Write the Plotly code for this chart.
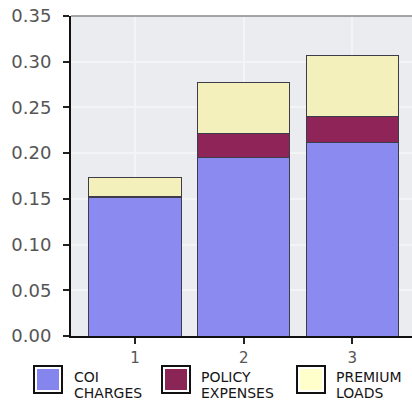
import plotly.graph_objects as go

# Policy years and the cost components stacked in each bar
years = ["1", "2", "3"]
coi_charges = [0.151, 0.195, 0.212]
policy_expenses = [0.002, 0.027, 0.028]
premium_loads = [0.020, 0.055, 0.067]

series_names = [["COI", "CHARGES"], ["POLICY", "EXPENSES"], ["PREMIUM", "LOADS"]]
bar_colors = ["#8a8af0", "#8e2457", "#f4f0bc"]
swatch_colors = ["#8585ee", "#8b2555", "#ffffcc"]

y_ticks = [0, 0.05, 0.10, 0.15, 0.20, 0.25, 0.30, 0.35]
y_tick_text = ["0.00", "0.05", "0.10", "0.15", "0.20", "0.25", "0.30", "0.35"]

W, H = 412, 402
ML, MR, MT, MB = 71, 0, 16, 66
PW, PH = W - ML - MR, H - MT - MB


def px_x(x):
    return (x - ML) / PW


def px_y(y):
    return (H - MB - y) / PH


fig = go.Figure()
for vals, name, col in zip([coi_charges, policy_expenses, premium_loads],
                           series_names, bar_colors):
    fig.add_trace(go.Bar(
        x=[1, 2, 3], y=vals, name=" ".join(name),
        marker=dict(color=col, line=dict(color="#3c3c4a", width=1)),
        width=0.85,
    ))

shapes = [
    # top border of the plotting area
    dict(type="line", xref="paper", yref="paper", x0=0, x1=1, y0=1, y1=1,
         line=dict(color="#8a8a8a", width=1.5), layer="above"),
    # white band under the axis, covering the lower part of the tick labels
    dict(type="rect", xref="paper", yref="paper", x0=px_x(0), x1=px_x(W),
         y0=px_y(H), y1=px_y(364), fillcolor="white", line=dict(width=0),
         layer="above"),
]
annotations = []

# legend: framed swatches with two-line captions
swatch_x = [34, 162, 297]
text_x = [72, 199, 334]
for sx, tx, col, name in zip(swatch_x, text_x, swatch_colors, series_names):
    shapes.append(dict(type="rect", xref="paper", yref="paper",
                       x0=px_x(sx), x1=px_x(sx + 28), y0=px_y(393), y1=px_y(366),
                       fillcolor="white", line=dict(color="#111111", width=2),
                       layer="above"))
    shapes.append(dict(type="rect", xref="paper", yref="paper",
                       x0=px_x(sx + 3), x1=px_x(sx + 25), y0=px_y(390), y1=px_y(369),
                       fillcolor=col, line=dict(width=0), layer="above"))
    for i, line in enumerate(name):
        annotations.append(dict(
            xref="paper", yref="paper", x=px_x(tx), y=px_y(377 + 16 * i),
            xanchor="left", yanchor="middle", text=line, showarrow=False,
            font=dict(family="DejaVu Sans", size=14, color="#151515"),
        ))

fig.update_layout(
    width=W, height=H,
    margin=dict(l=ML, r=MR, t=MT, b=MB, pad=0),
    barmode="stack",
    showlegend=False,
    paper_bgcolor="white",
    plot_bgcolor="#eaecef",
    shapes=shapes,
    annotations=annotations,
    xaxis=dict(
        range=[0.41, 3.55], tickvals=[1, 2, 3], ticktext=years,
        showline=True, linecolor="#111111", linewidth=2,
        ticks="outside", ticklen=6, tickcolor="#222222", tickwidth=1.5,
        showgrid=True, gridcolor="#f3f4f6", gridwidth=1.5,
        tickfont=dict(family="DejaVu Sans", size=15, color="#555555"),
        ticklabelstandoff=1,
        fixedrange=True,
    ),
    yaxis=dict(
        range=[0, 0.35], tickvals=y_ticks, ticktext=y_tick_text,
        showline=True, linecolor="#111111", linewidth=2,
        ticks="outside", ticklen=6, tickcolor="#222222", tickwidth=1.5,
        showgrid=True, gridcolor="#f3f4f6", gridwidth=1.5,
        zeroline=False,
        tickfont=dict(family="DejaVu Sans", size=18, color="#555555"),
        ticklabelstandoff=8,
        fixedrange=True,
    ),
)

fig.write_html("out.html")
